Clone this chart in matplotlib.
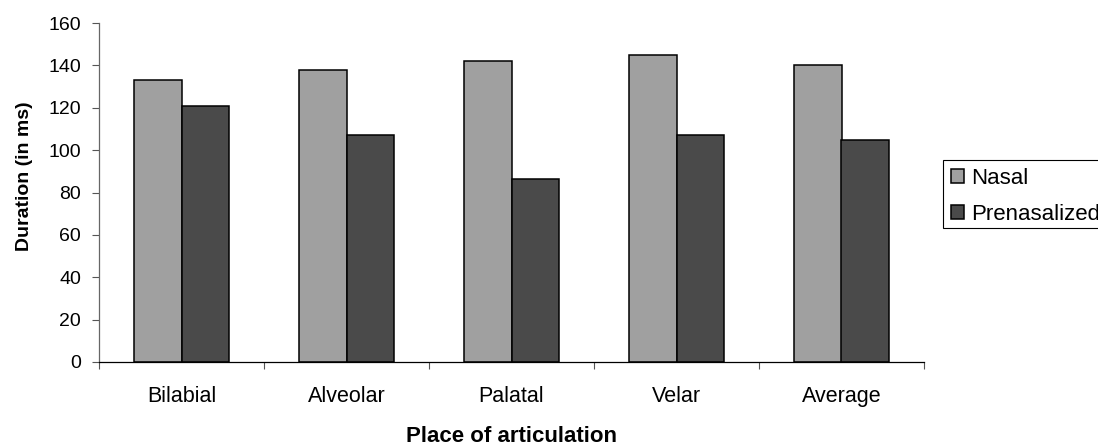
import matplotlib
matplotlib.use('Agg')
import matplotlib.pyplot as plt
from matplotlib.patches import Rectangle
import numpy as np

plt.rcParams['font.family'] = ['Liberation Sans', 'DejaVu Sans']

# Dati
categories = ["Bilabial", "Alveolar", "Palatal", "Velar", "Average"]
nasal = [133, 138, 142, 145, 140]
prenasalized = [121, 107, 86.5, 107, 105]
series_labels = ["Nasal", "Prenasalized"]
y_ticks = [0, 20, 40, 60, 80, 100, 120, 140, 160]

W, H = 1098, 445
fig = plt.figure(figsize=(W / 100, H / 100), dpi=100)
ax = fig.add_axes([99 / W, 1 - 362 / H, 825 / W, 339 / H])

x = np.arange(len(categories))
w = 0.29
b1 = ax.bar(x - w / 2, nasal, w, color="#a0a0a0", edgecolor="black", linewidth=1.1, label=series_labels[0])
b2 = ax.bar(x + w / 2, prenasalized, w, color="#4a4a4a", edgecolor="black", linewidth=1.1, label=series_labels[1])

ax.set_xlim(-0.5, len(categories) - 0.5)
ax.set_ylim(0, 160)
ax.set_yticks(y_ticks)
ax.set_yticklabels([str(t) for t in y_ticks], fontsize=14)
ax.tick_params(axis='y', length=5, width=0.8, pad=8, color="#555555")

# etichette al centro, tacche ai bordi delle categorie
ax.set_xticks(x)
ax.set_xticklabels(categories, fontsize=15.5)
ax.tick_params(axis='x', which='major', length=0, pad=17)
ax.set_xticks(np.arange(len(categories) + 1) - 0.5, minor=True)
ax.tick_params(axis='x', which='minor', length=5, width=0.8, color="#555555", direction='out')

for s in ["top", "right"]:
    ax.spines[s].set_visible(False)
ax.spines["left"].set_color("#666666")
ax.spines["bottom"].set_color("black")
ax.spines["left"].set_linewidth(0.9)
ax.spines["bottom"].set_linewidth(0.9)

ax.set_ylabel("Duration (in ms)", fontsize=14, fontweight="bold")
ax.yaxis.set_label_coords((33 - 99) / 825, (362 - 176) / 339)
ax.set_xlabel("Place of articulation", fontsize=16, fontweight="bold")
ax.xaxis.set_label_coords(0.5, (362 - 426) / 339)

# legenda: cornice disegnata a parte, tagliata dal bordo destro come nell'originale
fig.patches.append(Rectangle((943 / W, 1 - 228 / H), 200 / W, 68 / H, transform=fig.transFigure,
                             facecolor="white", edgecolor="black", linewidth=0.8, zorder=0))
leg = fig.legend(handles=[b1, b2], loc="upper left", bbox_to_anchor=(951 / W, 1 - 168 / H),
                 fontsize=16, frameon=False, handlelength=0.6, handleheight=0.6,
                 handletextpad=0.3, borderpad=0, labelspacing=0.68, borderaxespad=0)

plt.savefig("out.png", dpi=100)
plt.close()
